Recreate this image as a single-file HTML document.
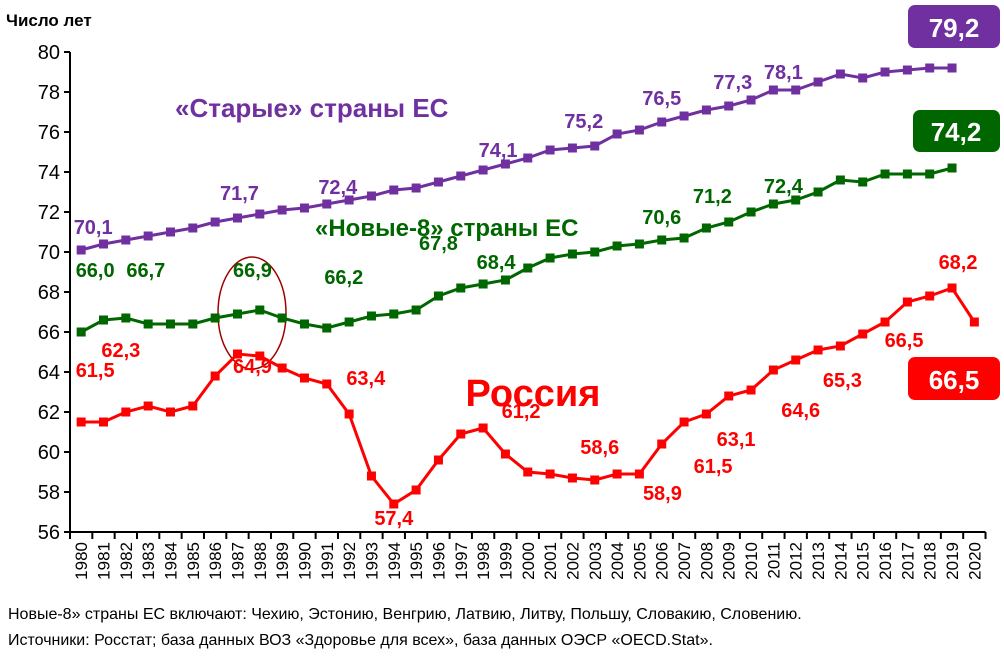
<!DOCTYPE html>
<html><head><meta charset="utf-8"><style>
body{margin:0;background:#fff;width:1004px;height:657px;overflow:hidden;font-family:"Liberation Sans","DejaVu Sans",sans-serif}
svg text{font-family:"Liberation Sans","DejaVu Sans",sans-serif}
</style></head><body>
<svg id="c" width="1004" height="657">
<text x="6" y="26" font-size="17" font-weight="bold">Число лет</text>
<g id="grid"></g>
<ellipse cx="252" cy="313" rx="34" ry="56" fill="none" stroke="#a00000" stroke-width="1.5"/>
<text x="175" y="117" font-size="26" font-weight="bold" fill="#7030a0">«Старые» страны ЕС</text>
<text x="315" y="236" font-size="24" font-weight="bold" fill="#006600">«Новые-8» страны ЕС</text>
<text x="533" y="406" font-size="38" font-weight="bold" fill="#ff0000" text-anchor="middle">Россия</text>
<g><rect x="908" y="5" width="92" height="43" rx="7" fill="#7030a0"/><text x="954" y="37" font-size="26" font-weight="bold" fill="#fff" text-anchor="middle">79,2</text></g>
<g><rect x="913" y="110" width="87" height="42" rx="7" fill="#006600"/><text x="956" y="141" font-size="26" font-weight="bold" fill="#fff" text-anchor="middle">74,2</text></g>
<g id="rbadge"><rect x="908" y="357" width="92" height="43" rx="7" fill="#ff0000"/><text x="954" y="389" font-size="26" font-weight="bold" fill="#fff" text-anchor="middle">66,5</text></g>
<text x="8" y="619" font-size="16">Новые-8» страны ЕС включают: Чехию, Эстонию, Венгрию, Латвию, Литву, Польшу, Словакию, Словению.</text>
<text x="8" y="645" font-size="16">Источники: Росстат; база данных ВОЗ «Здоровье для всех», база данных ОЭСР «OECD.Stat».</text>
</svg>
<script>
const years=[];for(let y=1980;y<=2020;y++)years.push(y);
const yTicks=[56,58,60,62,64,66,68,70,72,74,76,78,80];
const oldEU=[70.1,70.4,70.6,70.8,71.0,71.2,71.5,71.7,71.9,72.1,72.2,72.4,72.6,72.8,73.1,73.2,73.5,73.8,74.1,74.4,74.7,75.1,75.2,75.3,75.9,76.1,76.5,76.8,77.1,77.3,77.6,78.1,78.1,78.5,78.9,78.7,79.0,79.1,79.2,79.2];
const new8=[66.0,66.6,66.7,66.4,66.4,66.4,66.7,66.9,67.1,66.7,66.4,66.2,66.5,66.8,66.9,67.1,67.8,68.2,68.4,68.6,69.2,69.7,69.9,70.0,70.3,70.4,70.6,70.7,71.2,71.5,72.0,72.4,72.6,73.0,73.6,73.5,73.9,73.9,73.9,74.2];
const russia=[61.5,61.5,62.0,62.3,62.0,62.3,63.8,64.9,64.8,64.2,63.7,63.4,61.9,58.8,57.4,58.1,59.6,60.9,61.2,59.9,59.0,58.9,58.7,58.6,58.9,58.9,60.4,61.5,61.9,62.8,63.1,64.1,64.6,65.1,65.3,65.9,66.5,67.5,67.8,68.2,66.5];
const oldLabels=[[0,"70,1",12,-23],[7,"71,7",2,-25],[11,"72,4",11,-17],[18,"74,1",15,-20],[23,"75,2",-11,-25],[26,"76,5",0,-24],[29,"77,3",4,-24],[31,"78,1",10,-18]];
const newLabels=[[0,"66,0",14,-62],[2,"66,7",20,-48],[7,"66,9",15,-44],[11,"66,2",17,-51],[16,"67,8",0,-53],[18,"68,4",13,-22],[26,"70,6",0,-23],[28,"71,2",6,-32],[31,"72,4",10,-18]];
const rusLabels=[[0,"61,5",14,-52],[2,"62,3",-5,-62],[7,"64,9",15,12],[11,"63,4",39,-6],[14,"57,4",0,14],[18,"61,2",38,-17],[23,"58,6",5,-33],[25,"58,9",23,19],[27,"61,5",29,44],[30,"63,1",-15,49],[32,"64,6",5,50],[34,"65,3",2,34],[36,"66,5",19,18],[39,"68,2",6,-26]];
const X0=70,CW=22.33,Y56=532,PX=20;
const xs=i=>X0+CW*(i+0.5);
const ys=v=>Y56-(v-56)*PX;
const svg=document.getElementById('c'),g=document.getElementById('grid'),NS="http://www.w3.org/2000/svg";
function mk(t,a,p){const e=document.createElementNS(NS,t);for(const k in a)e.setAttribute(k,a[k]);(p||svg).appendChild(e);return e;}
let ax=mk('line',{x1:X0,y1:ys(80),x2:X0,y2:Y56,stroke:'#000','stroke-width':2},g);


let bx=mk('line',{x1:X0,y1:Y56,x2:X0+CW*41,y2:Y56,stroke:'#000','stroke-width':2},g);


yTicks.forEach(v=>{mk('line',{x1:X0-6,y1:ys(v),x2:X0,y2:ys(v),stroke:'#000','stroke-width':2},g);
 const t=mk('text',{x:X0-10,y:ys(v)+7,'font-size':20,'text-anchor':'end'},g);t.textContent=v;
 
 });
for(let i=0;i<=41;i++)mk('line',{x1:X0+CW*i,y1:Y56,x2:X0+CW*i,y2:Y56+7,stroke:'#000','stroke-width':2},g);
years.forEach((y,i)=>{const t=mk('text',{x:0,y:0,'font-size':17,'text-anchor':'end',transform:`translate(${xs(i)+6},${Y56+10}) rotate(-90)`},g);t.textContent=y;
 
 });
function series(d,col,name,labels){
 const p=mk('polyline',{points:d.map((v,i)=>xs(i)+','+ys(v)).join(' '),fill:'none',stroke:col,'stroke-width':3});
 
 
 d.forEach((v,i)=>{const r=mk('rect',{x:xs(i)-4.5,y:ys(v)-4.5,width:9,height:9,fill:col});
  
  });
 labels.forEach(([i,s,dx,dy])=>{const t=mk('text',{x:xs(i)+dx,y:ys(d[i])+dy+7,'font-size':20,'font-weight':'bold',fill:col,'text-anchor':'middle'});t.textContent=s;
  
  });
}
series(oldEU,'#7030a0','old-eu',oldLabels);
series(new8,'#006600','new8',newLabels);
series(russia,'#ff0000','russia',rusLabels);
svg.appendChild(document.getElementById('rbadge'));
</script>
</body></html>
